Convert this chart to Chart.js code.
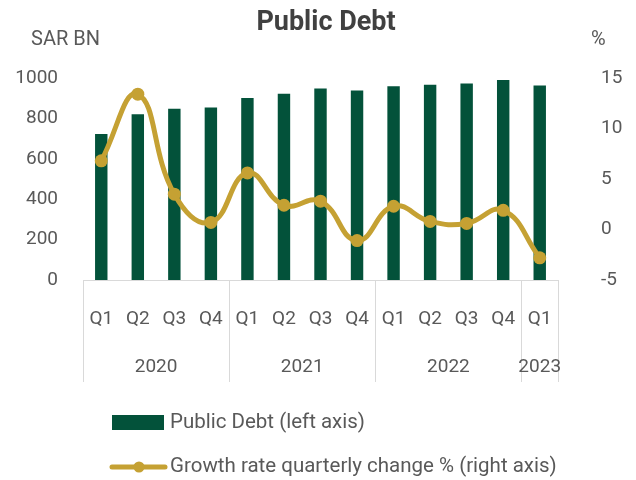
<!DOCTYPE html>
<html>
<head>
<meta charset="utf-8">
<script src="https://cdn.jsdelivr.net/npm/chart.js@4.4.1/dist/chart.umd.min.js"></script>
<style>
html,body{margin:0;padding:0;background:#fff;}
#wrap{width:636px;height:480px;position:relative;}
</style>
</head>
<body>
<div id="wrap"><canvas id="c" width="636" height="480"></canvas></div>
<script>
const chartTitle = 'Public Debt';
const quarters = ['Q1','Q2','Q3','Q4','Q1','Q2','Q3','Q4','Q1','Q2','Q3','Q4','Q1'];
const years = ['2020','2021','2022','2023'];
const quartersPerYear = [4,4,4,1];
const publicDebt = [723,820,848,854,901,922,948,938,959,967,973,990,963];
const growthRate = [6.8,13.4,3.5,0.7,5.6,2.4,2.8,-1.1,2.3,0.8,0.6,1.9,-2.8];
const leftTicks = [0,200,400,600,800,1000];
const rightTicks = [-5,0,5,10,15];

const GREEN = '#03523A';
const GOLD = '#C5A133';
const TXT = '#595959';
const FONT = 'Roboto, "DejaVu Sans", sans-serif';

const extras = {
  id: 'extras',
  afterDraw(chart) {
    const ctx = chart.ctx;
    const xs = chart.scales.x;
    const area = chart.chartArea;
    const n = quarters.length;
    const w = (xs.right - xs.left) / n;
    ctx.save();
    // title
    ctx.fillStyle = '#404040';
    ctx.font = 'bold 27px ' + FONT;
    ctx.textAlign = 'center';
    ctx.textBaseline = 'middle';
    ctx.fillText(chartTitle, 326, 23);
    // group dividers
    ctx.strokeStyle = '#D9D9D9';
    ctx.lineWidth = 1;
    let b = 0;
    const bounds = [0];
    quartersPerYear.forEach(q => { b += q; bounds.push(b); });
    bounds.forEach(k => {
      const px = Math.round(xs.left + k * w) + 0.5;
      ctx.beginPath();
      ctx.moveTo(px, area.bottom);
      ctx.lineTo(px, 382);
      ctx.stroke();
    });
    ctx.fillStyle = TXT;
    ctx.font = '19px ' + FONT;
    years.forEach((y, i) => {
      const cx = xs.left + (bounds[i] + bounds[i + 1]) / 2 * w;
      ctx.fillText(y, cx, 367);
    });
    ctx.textAlign = 'left';
    ctx.font = '20px ' + FONT;
    ctx.fillText('SAR BN', 31, 40);
    ctx.fillText('%', 591, 40);
    // legend
    const dsBar = chart.data.datasets.find(d => d.type === 'bar');
    const dsLine = chart.data.datasets.find(d => d.type === 'line');
    ctx.fillStyle = dsBar.backgroundColor;
    ctx.fillRect(112, 415, 52, 15);
    ctx.fillStyle = TXT;
    ctx.font = '20.5px ' + FONT;
    ctx.fillText(dsBar.label, 170, 423);
    ctx.strokeStyle = dsLine.borderColor;
    ctx.lineWidth = 5;
    ctx.lineCap = 'round';
    ctx.beginPath();
    ctx.moveTo(112, 467);
    ctx.lineTo(165, 467);
    ctx.stroke();
    ctx.fillStyle = dsLine.borderColor;
    ctx.beginPath();
    ctx.arc(139, 467, 5.5, 0, Math.PI * 2);
    ctx.fill();
    ctx.fillStyle = TXT;
    ctx.fillText(dsLine.label, 170, 467);
    ctx.restore();
  }
};

new Chart(document.getElementById('c'), {
  data: {
    labels: quarters,
    datasets: [
      {
        type: 'line',
        label: 'Growth rate quarterly change % (right axis)',
        data: growthRate,
        yAxisID: 'y1',
        borderColor: GOLD,
        backgroundColor: GOLD,
        borderWidth: 5,
        tension: 0.45,
        pointRadius: 6.5,
        pointBackgroundColor: GOLD,
        pointBorderWidth: 0,
        order: 0
      },
      {
        type: 'bar',
        label: 'Public Debt (left axis)',
        data: publicDebt,
        yAxisID: 'y',
        backgroundColor: GREEN,
        barPercentage: 0.34,
        categoryPercentage: 1.0,
        order: 1
      }
    ]
  },
  options: {
    responsive: false,
    animation: false,
    layout: { padding: { top: 78, left: 0, right: 0, bottom: 0 } },
    plugins: {
      legend: { display: false },
      tooltip: { enabled: false },
      title: { display: false }
    },
    scales: {
      x: {
        type: 'category',
        offset: true,
        grid: { display: false, drawTicks: false },
        border: { display: true, color: '#D9D9D9', width: 1 },
        ticks: { color: TXT, font: { family: FONT, size: 19 }, padding: 28, autoSkip: false, maxRotation: 0 },
        afterFit(s) { s.height = 200; }
      },
      y: {
        position: 'left',
        min: 0, max: 1000,
        afterBuildTicks(s) { s.ticks = leftTicks.map(v => ({ value: v })); },
        grid: { display: false, drawTicks: false },
        border: { display: false },
        ticks: { color: TXT, font: { family: FONT, size: 19 }, padding: 25, callback: v => String(v) },
        afterFit(s) { s.width = 83; }
      },
      y1: {
        position: 'right',
        min: -5, max: 15,
        afterBuildTicks(s) { s.ticks = rightTicks.map(v => ({ value: v })); },
        grid: { display: false, drawTicks: false },
        border: { display: false },
        ticks: { color: TXT, font: { family: FONT, size: 19 }, padding: 43, callback: v => String(v) },
        afterFit(s) { s.width = 78; }
      }
    }
  },
  plugins: [extras]
});
</script>
</body>
</html>
